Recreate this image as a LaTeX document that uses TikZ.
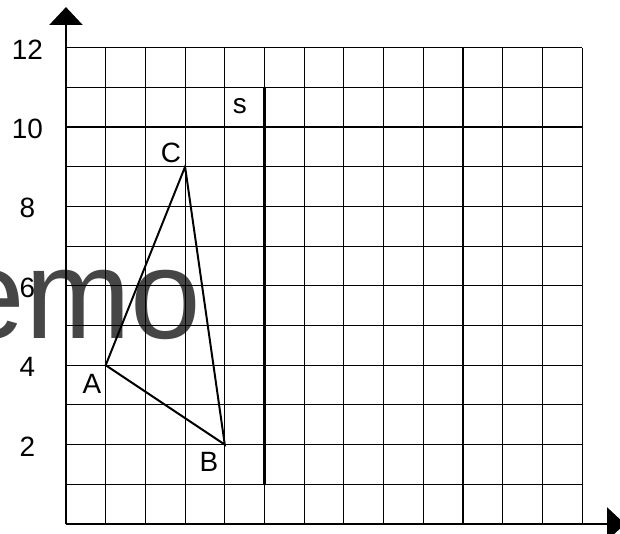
\documentclass[tikz,border=0pt]{standalone}
\usepackage{fontspec}
\setmainfont{Liberation Sans}
\usepackage{xcolor}
\usetikzlibrary{arrows.meta,positioning}
\definecolor{markgray}{HTML}{464646}
\tikzset{
  gridline/.style={black,line width=0.75pt},
  axisline/.style={line width=1.8pt,-{Triangle[length=0.45cm,width=0.83cm]}},
  triline/.style={line width=1.4pt,line join=miter},
  lbl/.style={font=\fontsize{20}{22}\selectfont,inner sep=0pt}
}
\begin{document}
\begin{tikzpicture}
  \useasboundingbox (-1.662,-0.227) rectangle (13.955,13.199);
  \node[markgray,anchor=base east,inner sep=0pt,font=\fontsize{91}{96}\selectfont] (wm) at (3.42,4.685) {Demo};
  \foreach \gx in {1,...,13}{\draw[gridline] (\gx,0)--(\gx,12);}
  \foreach \gy in {1,...,12}{\draw[gridline] (0,\gy)--(13,\gy);}
  \coordinate (O) at (0,0);
  \coordinate (xend) at (14.08,0);
  \coordinate (yend) at (0,13.02);
  \draw[axisline] (O)--(xend);
  \draw[axisline] (O)--(yend);
  \foreach \yv in {2,4,...,12}{\node[lbl] (y\yv) at (-0.97,\yv-0.05) {\yv};}
  \coordinate (A) at (1,4);
  \coordinate (B) at (4,2);
  \coordinate (C) at (3,9);
  \draw[triline] (A)--(B)--(C)--cycle;
  \node[lbl] (labA) at (0.655,3.53) {A};
  \node[lbl] (labB) at (3.6,1.56) {B};
  \node[lbl] (labC) at (2.645,9.34) {C};
  \coordinate (s1) at (5,1);
  \coordinate (s2) at (5,11);
  \draw[line width=2.2pt] (s1)--(s2);
  \node[lbl] (labs) at (4.38,10.53) {s};
\end{tikzpicture}
\end{document}
